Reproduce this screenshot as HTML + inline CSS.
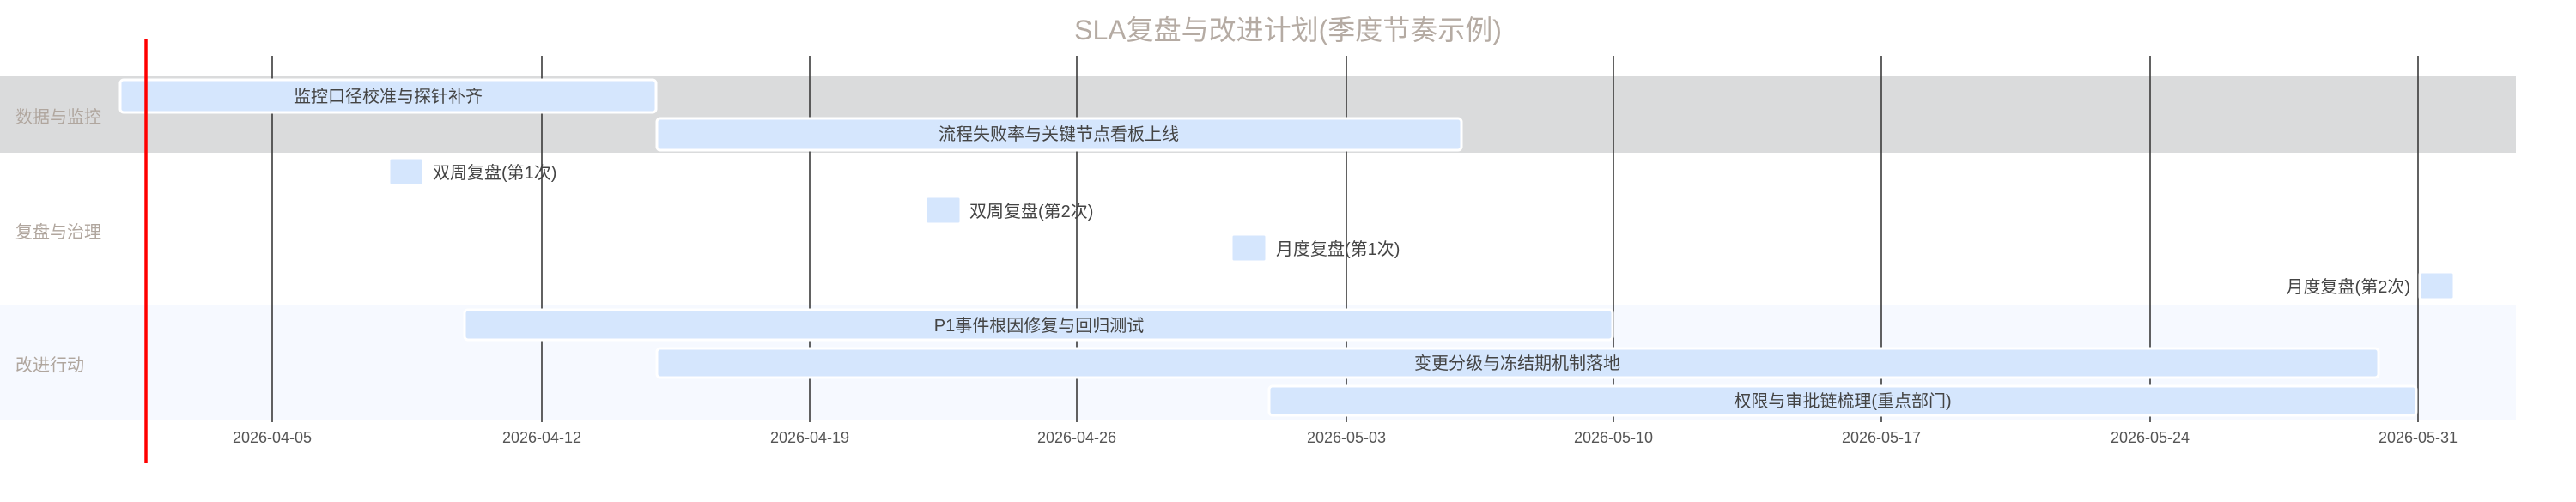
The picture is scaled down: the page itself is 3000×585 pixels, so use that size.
<!DOCTYPE html>
<html><head><meta charset="utf-8"><style>
html,body{margin:0;padding:0;background:#fff;}
svg{display:block;}
text{font-family:"Liberation Sans","Noto Sans CJK SC",sans-serif;}
</style></head><body>
<svg width="3000" height="585" viewBox="0 0 3000 585" xmlns="http://www.w3.org/2000/svg">
<rect x="0" y="0" width="3000" height="585" fill="#fff"/>
<text x="1500" y="46" text-anchor="middle" font-size="32" fill="#b5aba3">SLA复盘与改进计划(季度节奏示例)</text>
<!-- sections -->
<rect x="0" y="89" width="2930" height="89" fill="#dadbdc"/>
<rect x="0" y="178" width="2930" height="178" fill="#ffffff"/>
<rect x="0" y="356" width="2930" height="133" fill="#f6f9ff"/>
<!-- grid -->
<g stroke="#3a3a3a" stroke-width="1.6">
<line x1="317" y1="65" x2="317" y2="492"/>
<line x1="631" y1="65" x2="631" y2="492"/>
<line x1="943" y1="65" x2="943" y2="492"/>
<line x1="1254" y1="65" x2="1254" y2="492"/>
<line x1="1568" y1="65" x2="1568" y2="492"/>
<line x1="1879" y1="65" x2="1879" y2="492"/>
<line x1="2191" y1="65" x2="2191" y2="492"/>
<line x1="2504" y1="65" x2="2504" y2="492"/>
<line x1="2816" y1="65" x2="2816" y2="492"/>
</g>
<g font-size="18" fill="#555" text-anchor="middle">
<text x="317" y="516">2026-04-05</text>
<text x="631" y="516">2026-04-12</text>
<text x="943" y="516">2026-04-19</text>
<text x="1254" y="516">2026-04-26</text>
<text x="1568" y="516">2026-05-03</text>
<text x="1879" y="516">2026-05-10</text>
<text x="2191" y="516">2026-05-17</text>
<text x="2504" y="516">2026-05-24</text>
<text x="2816" y="516">2026-05-31</text>
</g>
<!-- section labels -->
<g font-size="20" fill="#b0a69e">
<text x="18" y="143">数据与监控</text>
<text x="18" y="277">复盘与治理</text>
<text x="18" y="432">改进行动</text>
</g>
<!-- bars -->
<g fill="#d5e6fd" stroke="#fff" stroke-width="3">
<rect x="140" y="93" width="624" height="38" rx="4"/>
<rect x="765" y="138" width="937" height="37" rx="4"/>
<rect x="453" y="184" width="40" height="32" rx="3"/>
<rect x="1078" y="229" width="41" height="32" rx="3"/>
<rect x="1434" y="273" width="41" height="32" rx="3"/>
<rect x="2818" y="317" width="40" height="32" rx="3"/>
<rect x="541" y="361" width="1337" height="35" rx="4"/>
<rect x="765" y="406" width="2005" height="34" rx="4"/>
<rect x="1478" y="450" width="1336" height="34" rx="4"/>
</g>
<g font-size="20" fill="#444">
<text x="452" y="119" text-anchor="middle">监控口径校准与探针补齐</text>
<text x="1233" y="163" text-anchor="middle">流程失败率与关键节点看板上线</text>
<text x="504" y="208">双周复盘(第1次)</text>
<text x="1129" y="253">双周复盘(第2次)</text>
<text x="1486" y="297">月度复盘(第1次)</text>
<text x="2807" y="341" text-anchor="end">月度复盘(第2次)</text>
<text x="1210" y="386" text-anchor="middle">P1事件根因修复与回归测试</text>
<text x="1767" y="430" text-anchor="middle">变更分级与冻结期机制落地</text>
<text x="2146" y="474" text-anchor="middle">权限与审批链梳理(重点部门)</text>
</g>
<line x1="170" y1="46" x2="170" y2="539" stroke="#ff0000" stroke-width="3.5"/>
</svg>
</body></html>
